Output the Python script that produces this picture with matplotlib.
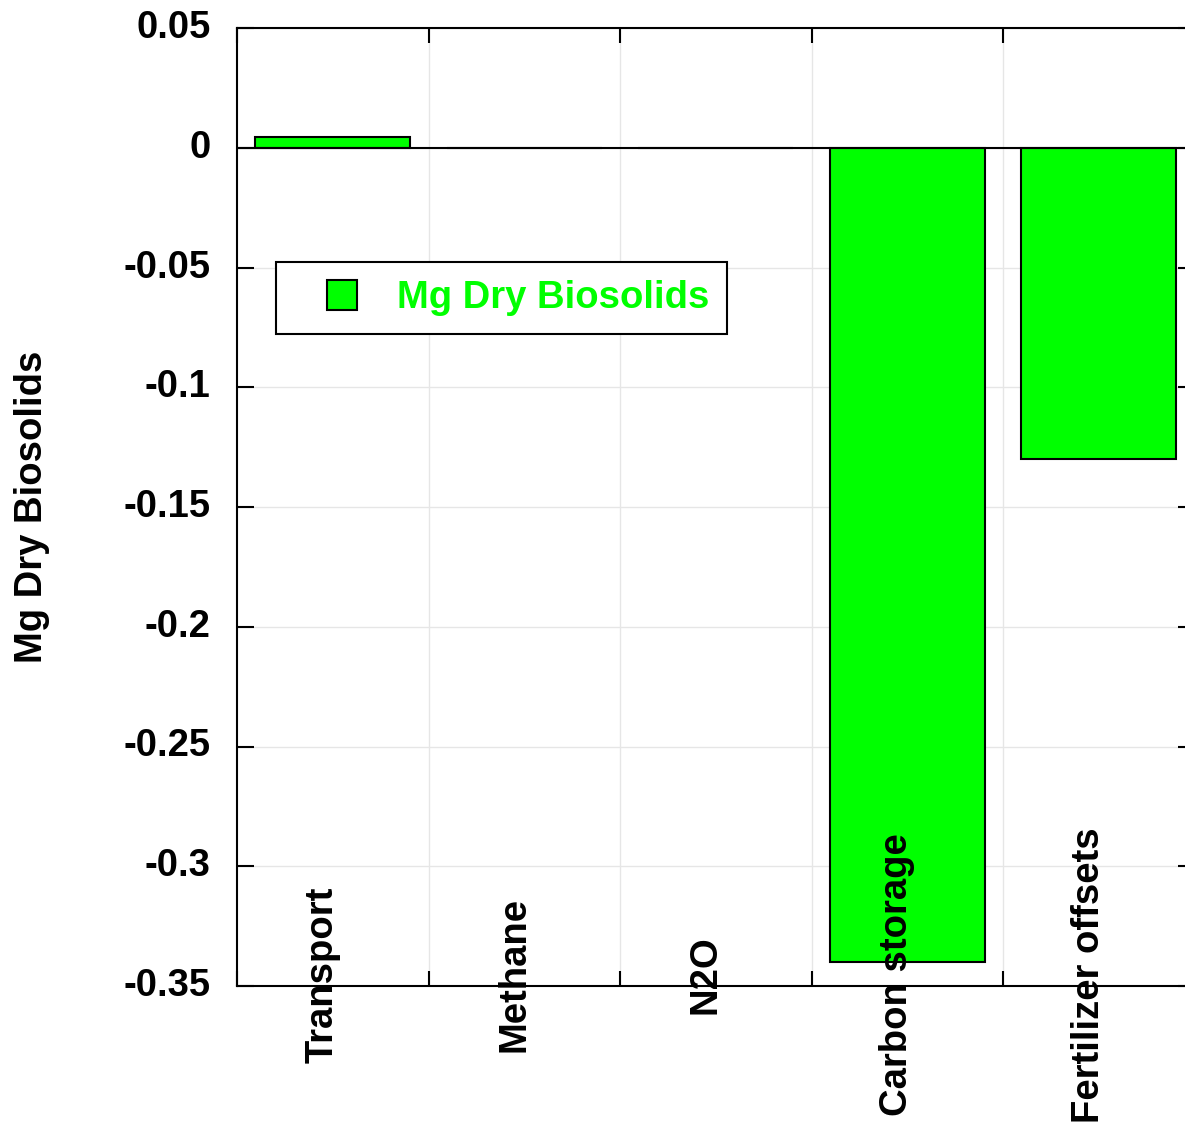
import matplotlib
matplotlib.use("Agg")
import matplotlib.pyplot as plt
from matplotlib.lines import Line2D
from matplotlib.transforms import ScaledTranslation
import numpy as np

categories = ["Transport", "Methane", "N2O", "Carbon storage", "Fertilizer offsets"]
values = [0.0045, 0.0, 0.0, -0.34, -0.13]
series_name = "Mg Dry Biosolids"
ytick_vals = [0.05, 0, -0.05, -0.1, -0.15, -0.2, -0.25, -0.3, -0.35]
ytick_labels = ["0.05", "0", "-0.05", "-0.1", "-0.15", "-0.2", "-0.25", "-0.3", "-0.35"]

GREEN = "#00ff00"
plt.rcParams['font.family'] = ['Liberation Sans', 'DejaVu Sans']
plt.rcParams['font.weight'] = 'bold'
FS = 27.5

fig = plt.figure(figsize=(11.85, 11.35), dpi=100)
ax = fig.add_axes([237/1185, 1-986/1135, 957.5/1185, 958/1135])

x = np.arange(len(categories))
ax.set_xlim(-0.5, len(categories) - 0.5)
ax.set_ylim(-0.35, 0.05)

# grid
for b in np.arange(0.5, len(categories) - 0.5, 1.0):
    ax.axvline(b, color="#e6e6e6", lw=1.0, zorder=0)
for yv in ytick_vals:
    ax.axhline(yv, color="#e6e6e6", lw=1.0, zorder=0)

ax.bar(x, values, width=0.81, color=GREEN, edgecolor="black", linewidth=1.5, zorder=2)
ax.axhline(0, color="black", lw=1.5, zorder=3)

# ticks
ax.set_yticks(ytick_vals)
ax.set_yticklabels(ytick_labels, fontsize=FS, fontweight='bold')
ax.tick_params(axis='y', direction='in', length=12, width=1.5, pad=19, left=True, right=True)
shift = ScaledTranslation(0, 4/100, fig.dpi_scale_trans)
for lab in ax.get_yticklabels():
    lab.set_transform(lab.get_transform() + shift)
ax.set_xticks(np.arange(-0.5, len(categories) + 0.5, 1.0))
ax.set_xticklabels([])
ax.tick_params(axis='x', direction='in', length=11, width=1.5, top=True, bottom=True)
for s in ax.spines.values():
    s.set_linewidth(1.5)

# category labels inside bottom
for i, c in enumerate(categories):
    ax.text(i, 0.0115, c, transform=ax.get_xaxis_transform(), rotation=90,
            rotation_mode='anchor', ha='center', va='baseline',
            fontsize=FS, fontweight='bold', color='black', zorder=5)

ax.set_ylabel(series_name, fontsize=FS, fontweight='bold')
ax.yaxis.set_label_coords(-(237-50)/957.5, 0.5)

handle = Line2D([], [], marker='s', ls='none', markersize=21.6,
                markerfacecolor=GREEN, markeredgecolor='black', markeredgewidth=1.5)
leg = ax.legend([handle], [series_name], loc='upper left',
                bbox_to_anchor=((276-237)/957.5, (986-262)/958), borderaxespad=0,
                prop={'weight': 'bold', 'size': FS}, fancybox=False,
                framealpha=1, edgecolor='black', handlelength=2.5, handletextpad=0.2,
                borderpad=0.47)
leg.get_frame().set_linewidth(1.5)
for t in leg.get_texts():
    t.set_color(GREEN)

fig.savefig("out.png", dpi=100)
